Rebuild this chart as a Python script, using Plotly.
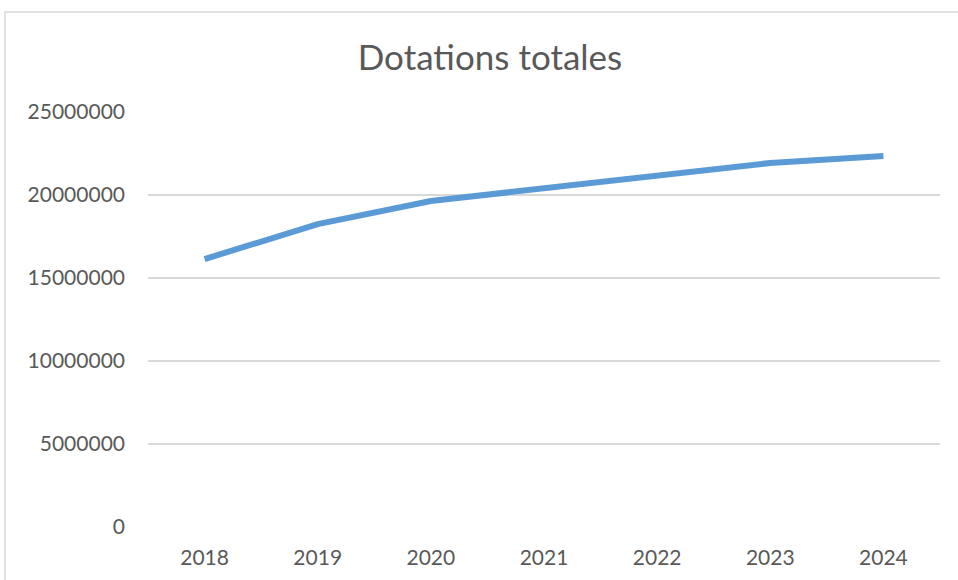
import plotly.graph_objects as go

years = ["2018", "2019", "2020", "2021", "2022", "2023", "2024"]
dotations = [16140000, 18250000, 19640000, 20420000, 21200000, 21930000, 22350000]
y_ticks = [0, 5000000, 10000000, 15000000, 20000000, 25000000]

W, H = 958, 580
L, R, T, B = 148, 18, 112, 53
pw, ph = W - L - R, H - T - B

fig = go.Figure(go.Scatter(
    x=years, y=dotations, mode="lines",
    line=dict(color="#5B9BD5", width=6),
    hoverinfo="x+y",
))

font = "Lato, 'Open Sans', sans-serif"
fig.update_layout(
    width=W, height=H,
    margin=dict(l=L, r=R, t=T, b=B),
    paper_bgcolor="white", plot_bgcolor="white",
    showlegend=False,
    title=dict(text="Dotations totales", x=490 / W, xanchor="center",
               y=1 - 58 / H, yanchor="middle",
               font=dict(family=font, size=35, color="#595959")),
    font=dict(family=font, color="#595959"),
    xaxis=dict(type="category", showgrid=False, zeroline=False, showline=False,
               ticks="", tickfont=dict(size=21, color="#595959"),
               ticklabelstandoff=16, range=[-0.5, 6.5]),
    yaxis=dict(range=[0, 25000000], tickvals=y_ticks,
               ticktext=[str(v) for v in y_ticks],
               showgrid=True, gridcolor="#D9D9D9", gridwidth=2,
               zeroline=False, showline=False, ticks="",
               tickfont=dict(size=21, color="#595959"),
               ticklabelstandoff=22),
    shapes=[dict(type="path", xref="paper", yref="paper",
                 path="M %f,%f L %f,%f L %f,%f" % (
                     (5 - L) / pw, -(H - T + 10) / ph,
                     (5 - L) / pw, 1 + (T - 12) / ph,
                     (W + 10 - L) / pw, 1 + (T - 12) / ph),
                 line=dict(color="#D9D9D9", width=1.5))],
)
fig.write_html("out.html")
